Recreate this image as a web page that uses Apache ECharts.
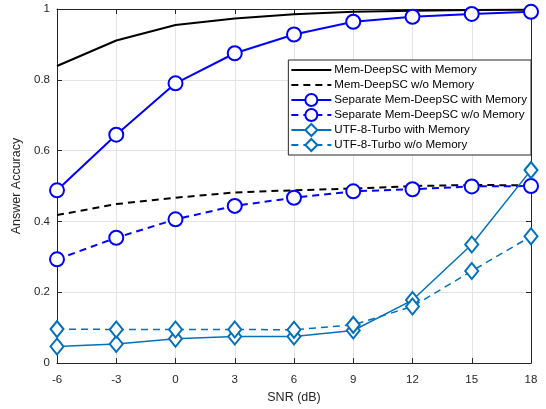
<!DOCTYPE html>
<html>
<head>
<meta charset="utf-8">
<script src="https://cdn.jsdelivr.net/npm/echarts@6/dist/echarts.min.js"></script>
<style>
  html, body { margin: 0; padding: 0; background: #fff; }
  #chart { width: 546px; height: 409px; }
</style>
</head>
<body>
<div id="chart"></div>
<script>
// SNR values (dB)
const snr = [-6, -3, 0, 3, 6, 9, 12, 15, 18]

// accuracy per curve
const memWith = [0.839, 0.911, 0.955, 0.973, 0.985, 0.992, 0.995, 0.997, 0.998]
const memWithout = [0.418, 0.449, 0.467, 0.482, 0.488, 0.493, 0.5, 0.503, 0.502]
const sepWith = [0.488, 0.645, 0.79, 0.875, 0.928, 0.964, 0.978, 0.986, 0.992]
const sepWithout = [0.293, 0.354, 0.406, 0.444, 0.467, 0.485, 0.491, 0.499, 0.5]
const utfWith = [0.047, 0.054, 0.069, 0.075, 0.075, 0.092, 0.178, 0.335, 0.545]
const utfWithout = [0.096, 0.095, 0.095, 0.095, 0.094, 0.108, 0.16, 0.26, 0.358]

const names = [
  'Mem-DeepSC with Memory',
  'Mem-DeepSC w/o Memory',
  'Separate Mem-DeepSC with Memory',
  'Separate Mem-DeepSC w/o Memory',
  'UTF-8-Turbo with Memory',
  'UTF-8-Turbo w/o Memory'
]

const FONT = 'Liberation Sans, Arial, Helvetica, sans-serif'
const dash = [7, 5]

function pairs(ys) {
  return ys.map((y, i) => [snr[i], y])
}

function makeSeries(name, ys, color, width, dashed, symbol, size) {
  return {
    name: name,
    type: 'line',
    data: pairs(ys),
    symbol: symbol || 'none',
    symbolSize: size || 0,
    showSymbol: !!symbol,
    lineStyle: { color: color, width: width, type: dashed ? dash : 'solid' },
    itemStyle: { color: '#fff', borderColor: color, borderWidth: 2 },
    emphasis: { disabled: true },
    animation: false
  }
}

const chart = echarts.init(document.getElementById('chart'), null, { renderer: 'canvas' })

const gridLine = { show: true, lineStyle: { color: '#e3e3e3', width: 1 } }
const axisLine = { show: true, onZero: false, lineStyle: { color: '#262626', width: 1 } }
const tickIn = { show: true, inside: true, length: 5, lineStyle: { color: '#262626' } }

// black curves have no marker: hide the legend marker for them
const legendData = names.map((n, i) => i < 2
  ? { name: n, itemStyle: { opacity: 0 } }
  : { name: n })

chart.setOption({
  backgroundColor: '#fff',
  textStyle: { fontFamily: FONT },
  grid: { left: 57, right: 15, top: 9, bottom: 45 },
  legend: {
    data: legendData,
    orient: 'vertical',
    right: 15,
    top: 60,
    itemWidth: 40,
    itemHeight: 15,
    itemGap: 1,
    padding: [3, 4, 3, 2],
    backgroundColor: '#fff',
    borderColor: '#262626',
    borderWidth: 1,
    borderRadius: 0,
    textStyle: { fontSize: 11.6, color: '#000', fontFamily: FONT, padding: [0, 0, 0, -2] }
  },
  xAxis: [{
    type: 'value',
    min: -6,
    max: 18,
    interval: 3,
    name: 'SNR (dB)',
    nameLocation: 'middle',
    nameGap: 26,
    nameTextStyle: { fontSize: 12.5, color: '#262626' },
    axisLine: axisLine,
    axisTick: tickIn,
    axisLabel: { fontSize: 11.5, color: '#262626', margin: 11 },
    splitLine: gridLine
  }, {
    type: 'value',
    position: 'top',
    min: -6,
    max: 18,
    interval: 3,
    axisLine: axisLine,
    axisTick: tickIn,
    axisLabel: { show: false },
    splitLine: { show: false }
  }],
  yAxis: [{
    type: 'value',
    min: 0,
    max: 1,
    interval: 0.2,
    name: 'Answer Accuracy',
    nameLocation: 'middle',
    nameGap: 31,
    nameTextStyle: { fontSize: 12.5, color: '#262626' },
    axisLine: axisLine,
    axisTick: tickIn,
    axisLabel: { fontSize: 11.5, color: '#262626', margin: 7 },
    splitLine: gridLine
  }, {
    type: 'value',
    position: 'right',
    min: 0,
    max: 1,
    interval: 0.2,
    axisLine: axisLine,
    axisTick: tickIn,
    axisLabel: { show: false },
    splitLine: { show: false }
  }],
  series: [
    makeSeries(names[0], memWith, '#000', 2, false),
    makeSeries(names[1], memWithout, '#000', 2, true),
    makeSeries(names[2], sepWith, '#0000ff', 2, false, 'circle', 14),
    makeSeries(names[3], sepWithout, '#0000ff', 2, true, 'circle', 14),
    makeSeries(names[4], utfWith, '#0072bd', 1.5, false, 'diamond', [13, 16]),
    makeSeries(names[5], utfWithout, '#0072bd', 1.5, true, 'diamond', [13, 16])
  ]
})
</script>
</body>
</html>
